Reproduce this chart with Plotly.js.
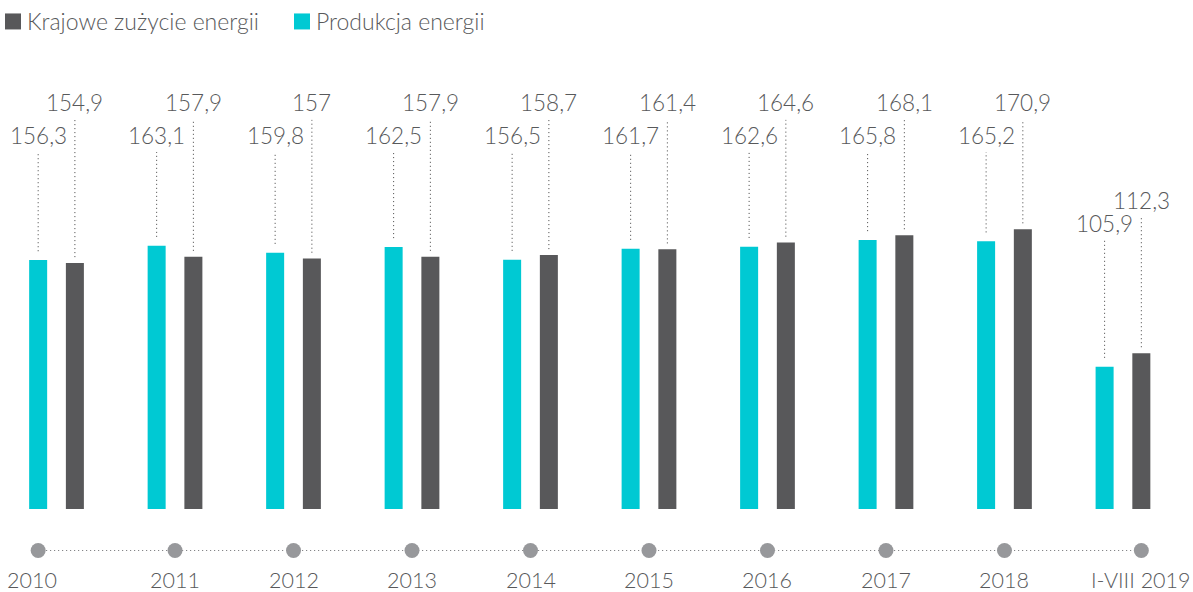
<!DOCTYPE html>
<html>
<head>
<meta charset="utf-8">
<script src="https://cdn.plot.ly/plotly-3.0.1.min.js"></script>
<style>
  html, body { margin: 0; padding: 0; background: #ffffff; }
  #chart { width: 1193px; height: 592px; }
</style>
</head>
<body>
<div id="chart"></div>
<script>
// ---- data ----
const categories = ['2010', '2011', '2012', '2013', '2014', '2015', '2016', '2017', '2018', 'I-VIII 2019'];
const produkcja = [156.3, 163.1, 159.8, 162.5, 156.5, 161.7, 162.6, 165.8, 165.2, 105.9];
const zuzycie   = [154.9, 157.9, 157.0, 157.9, 158.7, 161.4, 164.6, 168.1, 170.9, 112.3];
const seriesNames = ['Produkcja energii', 'Krajowe zużycie energii'];

// ---- styling / layout constants ----
const CYAN = '#00C9D3';
const GRAY = '#58585A';
const TEXT = '#58595B';
const FONT = 'Lato, "Open Sans", sans-serif';
const barW = 0.152;      // bar width in category units
const half = 0.155;      // offset of each bar centre from the category centre
const labelLevel = { cyan: 215.4, gray: 230.6 };      // label heights (axis units)
const lastLabelLevel = { cyan: 173.8, gray: 184.7 };  // last group's labels
const idx = categories.map((_, i) => i);
const fmt = v => String(v).replace('.', ',');

const traces = [
  {
    type: 'bar', name: seriesNames[0], x: idx, y: produkcja,
    width: barW, offset: -half - barW / 2,
    marker: { color: CYAN }, hoverinfo: 'skip'
  },
  {
    type: 'bar', name: seriesNames[1], x: idx, y: zuzycie,
    width: barW, offset: half - barW / 2,
    marker: { color: GRAY }, hoverinfo: 'skip'
  },
  {
    type: 'scatter', mode: 'lines+markers', showlegend: false, hoverinfo: 'skip',
    x: idx.map(i => i === 0 ? i - half : (i === idx.length - 1 ? i + half : i)),
    y: idx.map(() => 0.5), yaxis: 'y2',
    line: { color: '#6E6F72', width: 1, dash: '1px,3px' },
    marker: { color: '#97989B', size: 15 }
  }
];

const annotations = [];
const shapes = [];
idx.forEach(i => {
  const last = i === idx.length - 1;
  const lv = last ? lastLabelLevel : labelLevel;
  [[produkcja[i], -half, lv.cyan, 4.2], [zuzycie[i], half, lv.gray, 2.8]].forEach(([v, off, ly, gap]) => {
    annotations.push({
      x: i + off, y: ly, xref: 'x', yref: 'y', text: fmt(v), showarrow: false,
      xanchor: 'center', yanchor: 'middle',
      font: { family: FONT, size: 22.5, color: TEXT, weight: 300 }
    });
    shapes.push({
      type: 'line', xref: 'x', yref: 'y', x0: i + off, x1: i + off,
      y0: v + gap, y1: ly - 8,
      line: { color: '#404040', width: 1, dash: '1px,3px' }
    });
  });
  annotations.push({
    x: traces[2].x[i], y: 0.145, xref: 'x', yref: 'y2', text: categories[i], showarrow: false,
    xanchor: 'center', yanchor: 'middle', xshift: i === 0 ? -6 : 0, height: 22,
    font: { family: FONT, size: 21.5, color: TEXT, weight: 300 }
  });
});

const layout = {
  width: 1193, height: 592,
  margin: { l: 0, r: 0, t: 0, b: 0, pad: 0, autoexpand: false },
  paper_bgcolor: '#ffffff', plot_bgcolor: '#ffffff',
  barmode: 'overlay',
  showlegend: true,
  legend: {
    orientation: 'h', x: -0.0109, y: 1.0, xanchor: 'left', yanchor: 'top',
    traceorder: 'reversed', entrywidth: 244, entrywidthmode: 'pixels',
    font: { family: FONT, size: 23, color: TEXT, weight: 300 },
    bgcolor: 'rgba(0,0,0,0)'
  },
  xaxis: { range: [-0.477, 9.591], visible: false, fixedrange: true },
  yaxis: { domain: [0.1402, 1], range: [38.6, 279.3], visible: false, fixedrange: true },
  yaxis2: { domain: [0, 0.1402], range: [0, 1], visible: false, fixedrange: true },
  annotations: annotations,
  shapes: shapes,
  font: { family: FONT, color: TEXT }
};

Plotly.newPlot('chart', traces, layout, { displayModeBar: false, staticPlot: true }).then(gd => {
  // enlarge legend swatches to match the reference squares
  gd.querySelectorAll('.legendpoints path').forEach(p => {
    p.setAttribute('transform', 'translate(26,0) scale(1.333)');
  });
});
</script>
</body>
</html>
